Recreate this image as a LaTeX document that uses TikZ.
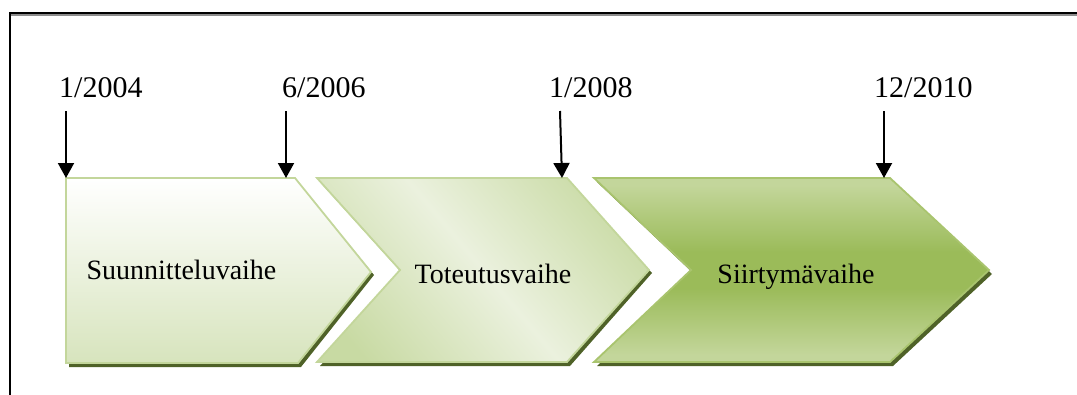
\documentclass[tikz,border=0pt]{standalone}
\usepackage{fontspec}
\setmainfont{Liberation Serif}
\usetikzlibrary{arrows.meta}
\definecolor{shadowgreen}{HTML}{4F6228}
\definecolor{lightgreen}{HTML}{C3D69B}
\definecolor{palegreen}{HTML}{D7E4BD}
\definecolor{verypale}{HTML}{EBF1DE}
\definecolor{midgreen}{HTML}{9BBB59}
\definecolor{edgegreen}{HTML}{A9C46E}
\definecolor{cornergreen}{HTML}{C8DAA3}
\pgfdeclareverticalshading{chevone}{100bp}{color(0bp)=(palegreen); color(25bp)=(palegreen); color(75bp)=(white); color(100bp)=(white)}
\pgfdeclareverticalshading{chevtwo}{100bp}{color(0bp)=(cornergreen); color(22bp)=(cornergreen); color(50bp)=(verypale); color(78bp)=(cornergreen); color(100bp)=(cornergreen)}
\pgfdeclareverticalshading{chevthree}{100bp}{color(0bp)=(lightgreen); color(27bp)=(lightgreen); color(45bp)=(midgreen); color(55bp)=(midgreen); color(73bp)=(lightgreen); color(100bp)=(lightgreen)}
\tikzset{
  datelabel/.style={anchor=base west, inner sep=0pt, font=\fontsize{30}{34}\selectfont},
  phaselabel/.style={anchor=base, inner sep=0pt, font=\fontsize{28}{32}\selectfont},
  marker/.style={line width=2pt, -{Triangle[length=15pt,width=16pt]}},
  shadowfill/.style={fill=shadowgreen},
  chevron/.style={line width=1.8pt, line join=miter},
}
\begin{document}
\begin{tikzpicture}[x=1pt,y=-1pt]
\useasboundingbox (0,0) rectangle (1077,394);
% frame
\draw[line width=2.5pt, black!45] (10,14.5) -- (1080,14.5);
\draw[line width=1.6pt, black] (10,13) -- (1080,13);
\draw[line width=2pt, black] (10,12.2) -- (10,400);
% shadows
\fill[shadowfill] (69,182) -- (298,182) -- (374,275) -- (301,367) -- (69,367) -- cycle;
\fill[shadowfill] (320,182) -- (570,182) -- (652,273) -- (570,366) -- (320,366) -- (403,274) -- cycle;
\fill[shadowfill] (597,182) -- (893,182) -- (992,274) -- (893,366) -- (597,366) -- (694,274) -- cycle;
% chevron 1
\shade[chevron, shading=chevone, draw=lightgreen]
  (66,178) -- (295,178) -- (371,272) -- (298,363) -- (66,363) -- cycle;
% chevron 2
\shade[chevron, shading=chevtwo, shading angle=-50, draw=lightgreen]
  (317,178) -- (567,178) -- (649,270) -- (567,362) -- (317,362) -- (400,270) -- cycle;
% chevron 3
\shade[chevron, shading=chevthree, draw=edgegreen]
  (594,178) -- (890,178) -- (989,270) -- (890,362) -- (594,362) -- (691,270) -- cycle;
% phase labels
\node[phaselabel] (p1) at (181.5,279) {Suunnitteluvaihe};
\node[phaselabel] (p2) at (493,283) {Toteutusvaihe};
\node[phaselabel] (p3) at (796,283) {Siirtymävaihe};
% date labels
\node[datelabel] (d1) at (59,97) {1/2004};
\node[datelabel] (d2) at (282,97) {6/2006};
\node[datelabel] (d3) at (549,97) {1/2008};
\node[datelabel] (d4) at (874,97) {12/2010};
% arrow ends
\coordinate (s1) at (66,111);  \coordinate (e1) at (66,178);
\coordinate (s2) at (286,111); \coordinate (e2) at (286,178);
\coordinate (s3) at (560,111); \coordinate (e3) at (562,178);
\coordinate (s4) at (884,111); \coordinate (e4) at (884,178);
\draw[marker] (s1) -- (e1);
\draw[marker] (s2) -- (e2);
\draw[marker] (s3) -- (e3);
\draw[marker] (s4) -- (e4);
\end{tikzpicture}
\end{document}
